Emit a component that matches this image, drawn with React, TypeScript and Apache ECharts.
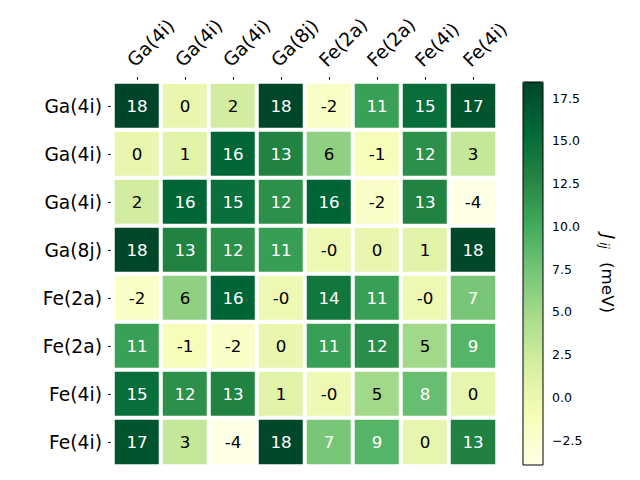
import React, { useEffect, useRef } from "react";
import * as echarts from "echarts";

const xLabels = ["Ga(4i)", "Ga(4i)", "Ga(4i)", "Ga(8j)", "Fe(2a)", "Fe(2a)", "Fe(4i)", "Fe(4i)"];
const yLabels = ["Ga(4i)", "Ga(4i)", "Ga(4i)", "Ga(8j)", "Fe(2a)", "Fe(2a)", "Fe(4i)", "Fe(4i)"];

const rowGa4iA = [18.44, 0.2, 2.1, 18.3, -2.0, 10.8, 15.0, 17.2];
const rowGa4iB = [0.2, 1.0, 15.8, 13.0, 6.0, -1.2, 12.0, 3.0];
const rowGa4iC = [2.1, 15.8, 14.8, 12.0, 15.9, -2.1, 13.0, -3.96];
const rowGa8j = [18.3, 13.0, 12.0, 11.0, -0.3, 0.2, 1.0, 18.2];
const rowFe2aA = [-2.0, 6.0, 15.9, -0.3, 14.2, 10.9, -0.3, 7.2];
const rowFe2aB = [10.8, -1.2, -2.1, 0.2, 10.9, 12.2, 5.0, 9.0];
const rowFe4iA = [15.0, 12.0, 13.0, 1.0, -0.3, 5.0, 8.1, 0.3];
const rowFe4iB = [17.2, 3.0, -3.96, 18.2, 7.2, 9.0, 0.3, 13.1];

const colorbarTicks = [-2.5, 0, 2.5, 5, 7.5, 10, 12.5, 15, 17.5];
const vMin = -3.96;
const vMax = 18.44;

const ylgn = ["#ffffe5", "#f7fcb9", "#d9f0a3", "#addd8e", "#78c679", "#41ab5d", "#238443", "#006837", "#004529"];

const FONT = "DejaVu Sans";

export default function App() {
  const ref = useRef<HTMLDivElement>(null);
  useEffect(() => {
    if (!ref.current) return;
    const chart = echarts.init(ref.current, undefined, { renderer: "svg" });
    const rows = [rowGa4iA, rowGa4iB, rowGa4iC, rowGa8j, rowFe2aA, rowFe2aB, rowFe4iA, rowFe4iB];
    const data: any[] = [];
    rows.forEach((row, y) => {
      row.forEach((v, x) => {
        data.push({
          value: [x, y, v],
          label: { color: v > 6.5 ? "#ffffff" : "#000000" },
        });
      });
    });
    chart.setOption({
      animation: false,
      backgroundColor: "#ffffff",
      grid: [
        { left: 113, top: 82, width: 384, height: 384, containLabel: false },
        {
          left: 523, top: 82, width: 20, height: 383, show: true,
          borderColor: "#000", borderWidth: 1, backgroundColor: "transparent", z: 10,
        },
      ],
      xAxis: [
        {
          type: "category",
          gridIndex: 0,
          data: xLabels,
          position: "top",
          axisLine: { show: false },
          axisTick: { show: true, alignWithLabel: true, length: 5, lineStyle: { color: "#000" } },
          axisLabel: {
            interval: 0, rotate: -45, align: "left", verticalAlign: "bottom", margin: 12,
            fontSize: 18.7, fontFamily: FONT, color: "#000",
          },
          splitLine: { show: false },
        },
        { type: "value", gridIndex: 1, show: false, min: 0, max: 1 },
      ],
      yAxis: [
        {
          type: "category",
          gridIndex: 0,
          data: yLabels,
          inverse: true,
          axisLine: { show: false },
          axisTick: { show: true, alignWithLabel: true, length: 5, lineStyle: { color: "#000" } },
          axisLabel: { interval: 0, margin: 11, fontSize: 18.7, fontFamily: FONT, color: "#000" },
          splitLine: { show: false },
        },
        {
          type: "value",
          gridIndex: 1,
          position: "right",
          min: vMin,
          max: vMax,
          axisLine: { show: false },
          splitLine: { show: false },
          axisTick: { show: true, length: 5, lineStyle: { color: "#000" }, customValues: colorbarTicks },
          axisLabel: {
            margin: 9, fontSize: 12.5, fontFamily: FONT, color: "#000",
            customValues: colorbarTicks,
            formatter: (v: number) => v.toFixed(1).replace("-", "\u2212"),
          },
          name: "{j|J}{s|ij}{t| (meV)}",
          nameLocation: "middle",
          nameRotate: -90,
          nameGap: 55,
          nameTextStyle: {
            fontSize: 16.7, fontFamily: FONT, color: "#000",
            rich: {
              j: { fontSize: 17.5, fontFamily: FONT, fontStyle: "italic", color: "#000" },
              s: {
                fontSize: 12, fontFamily: FONT, fontStyle: "italic", color: "#000",
                verticalAlign: "bottom", padding: [7, 4, 0, 3],
              },
              t: { fontSize: 16.7, fontFamily: FONT, color: "#000", padding: [0, 0, 0, 4] },
            },
          },
        },
      ],
      visualMap: {
        type: "continuous",
        min: vMin,
        max: vMax,
        show: true,
        calculable: false,
        hoverLink: false,
        seriesIndex: 0,
        left: 523,
        top: 82,
        itemWidth: 20,
        itemHeight: 383,
        padding: 0,
        inRange: { color: ylgn },
      },
      series: [
        {
          type: "heatmap",
          xAxisIndex: 0,
          yAxisIndex: 0,
          data,
          itemStyle: { borderColor: "#ffffff", borderWidth: 4 },
          label: {
            show: true,
            fontSize: 16.7,
            fontFamily: FONT,
            formatter: (p: any) => Number(p.value[2]).toFixed(0),
          },
          emphasis: { disabled: true },
        },
      ],
    });
    return () => chart.dispose();
  }, []);
  return <div ref={ref} style={{ width: 640, height: 480, margin: -8 }} />;
}
